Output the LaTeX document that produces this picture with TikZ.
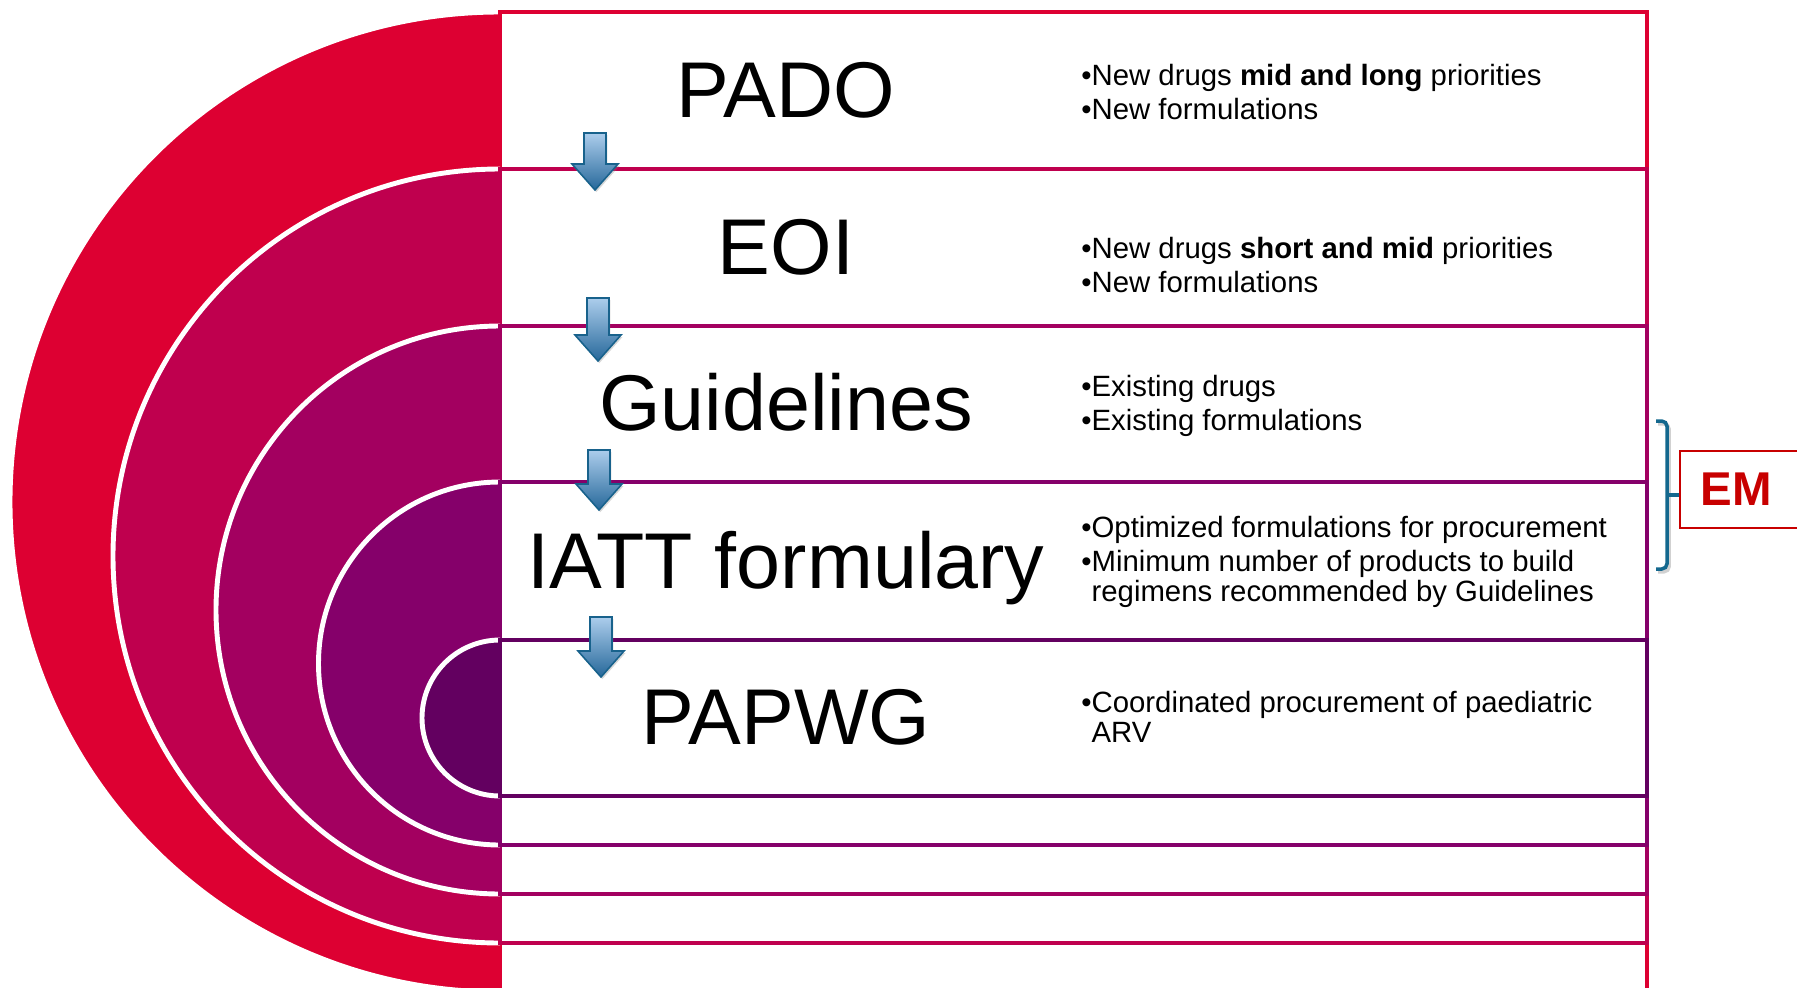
\documentclass[tikz,border=0pt]{standalone}
\usepackage{fontspec}
\setmainfont{Liberation Sans}
\usepackage{xcolor}
\usetikzlibrary{positioning,shadows}
\definecolor{band1}{RGB}{221,0,50}
\definecolor{band2}{RGB}{191,0,78}
\definecolor{band3}{RGB}{163,0,96}
\definecolor{band4}{RGB}{133,0,106}
\definecolor{band5}{RGB}{99,0,96}
\definecolor{arrowtop}{RGB}{172,205,236}
\definecolor{arrowbot}{RGB}{38,104,154}
\definecolor{arrowrim}{RGB}{24,98,140}
\definecolor{bracecol}{RGB}{20,104,142}
\definecolor{emred}{RGB}{200,0,0}
\tikzset{
  halfdisk/.style={fill=#1,draw=white,line width=2.8pt},
  bandbox/.style={draw=#1,fill=white,line width=2.4pt},
  stage/.style={font=\fontsize{45}{50}\selectfont,anchor=base,inner sep=0pt},
  notes/.style={font=\fontsize{16.7}{17}\selectfont,align=left,anchor=west,inner sep=0pt},
  flowarrow/.style={top color=arrowtop,bottom color=arrowbot,draw=arrowrim,line width=.9pt,
                    drop shadow={shadow xshift=.8pt,shadow yshift=-1.2pt,opacity=.3}},
  brace/.style={draw=bracecol,line width=2pt,rounded corners=3pt},
  embox/.style={draw=emred,line width=1.1pt,text=emred,anchor=west,
                font=\fontsize{27}{30}\selectfont\bfseries,text width=2cm,align=left,
                inner xsep=.41cm,minimum height=1.55cm},
}

\begin{document}
\begin{tikzpicture}[x=0.02cm,y=-0.02cm]
  \useasboundingbox (0,0) rectangle (1797,987);
  % nested bands: half disk on the left, framed row on the right
  \foreach \k/\t/\b in {1/12/992,2/169/943,3/326/894,4/482/845,5/640/796}{
    \pgfmathsetmacro{\cy}{(\t+\b)/2}
    \pgfmathsetmacro{\rad}{(\b-\t)/2}
    \begin{scope}
      \clip (0,0) rectangle (500,1000);
      \path[halfdisk=band\k] (500,\cy) circle[radius=\rad];
    \end{scope}
    \path[bandbox=band\k] (500,\t) rectangle (1647,\b);
  }

  \node[stage] (pado)  at (786,117) {PADO};
  \node[stage] (eoi)   at (786,274) {EOI};
  \node[stage] (guide) at (786,430) {Guidelines};
  \node[stage] (iatt)  at (786,588) {IATT formulary};
  \node[stage] (papwg) at (786,744) {PAPWG};

  \node[notes] (pado-notes)  at (1081,92)  {•New drugs \textbf{mid and long} priorities\\[2.6pt]•New formulations};
  \node[notes] (eoi-notes)   at (1081,265) {•New drugs \textbf{short and mid} priorities\\[2.6pt]•New formulations};
  \node[notes] (guide-notes) at (1081,406) {•Existing drugs\\[2.6pt]•Existing formulations};
  \node[notes] (iatt-notes)  at (1081,562) {•Optimized formulations for procurement\\[2.6pt]•Minimum number of products to build\\\hphantom{•}regimens recommended by Guidelines};
  \node[notes] (papwg-notes) at (1081,717) {•Coordinated procurement of paediatric\\\hphantom{•}ARV};

  % block arrows between the rows
  \foreach \x/\t/\b in {595/133/190,598/298/361,599/450/510,601/617/677}
    \path[flowarrow] ({\x-11},\t) -- ({\x+11},\t) -- ({\x+11},{\b-26}) -- ({\x+23},{\b-26})
      -- (\x,\b) -- ({\x-23},{\b-26}) -- ({\x-11},{\b-26}) -- cycle;

  \node[embox] (em) at (1679,489.5) {EM};
  \coordinate (tick) at (1667,495);
  \draw[brace,draw=black!45,opacity=.4,xshift=1.2pt,yshift=-1.6pt]
    (1656,421) -- (1667,421) -- (1667,569) -- (1656,569);
  \draw[brace] (1656,421) -- (1667,421) -- (1667,569) -- (1656,569);
  \draw[brace] (tick) -- (tick -| em.west);
\end{tikzpicture}
\end{document}
